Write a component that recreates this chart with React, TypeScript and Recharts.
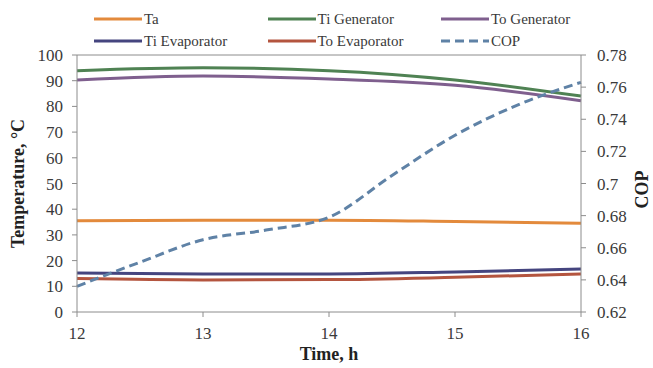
import { LineChart, Line, XAxis, YAxis, Legend, ReferenceLine, Label } from "recharts";

// hourly temperature readings, °C
const hours = [12, 13, 14, 15, 16];
const taValues = [35.5, 35.7, 35.7, 35.2, 34.5];
const tiGenValues = [93.9, 95.0, 93.9, 90.3, 84.0];
const toGenValues = [90.3, 91.8, 90.7, 88.2, 82.2];
const tiEvapValues = [15.2, 14.8, 14.8, 15.6, 16.7];
const toEvapValues = [13.0, 12.5, 12.6, 13.5, 14.8];

// COP, half-hourly
const copHours = [12, 12.5, 13, 13.5, 14, 14.5, 15, 15.5, 16];
const copValues = [0.636, 0.651, 0.665, 0.671, 0.679, 0.705, 0.73, 0.749, 0.763];

const timeTicks = [12, 13, 14, 15, 16];
const tempTicks = [0, 10, 20, 30, 40, 50, 60, 70, 80, 90, 100];
const copTicks = [0.62, 0.64, 0.66, 0.68, 0.7, 0.72, 0.74, 0.76, 0.78];

const series = [
  { key: "ta", name: "Ta", color: "#E38A3C", dashed: false },
  { key: "tiGen", name: "Ti Generator", color: "#4F8253", dashed: false },
  { key: "toGen", name: "To Generator", color: "#7F5F8E", dashed: false },
  { key: "tiEvap", name: "Ti Evaporator", color: "#45457F", dashed: false },
  { key: "toEvap", name: "To Evaporator", color: "#B4553F", dashed: false },
  { key: "cop", name: "COP", color: "#5F82A6", dashed: true },
];

const tempData = hours.map((t, i) => ({
  t,
  ta: taValues[i],
  tiGen: tiGenValues[i],
  toGen: toGenValues[i],
  tiEvap: tiEvapValues[i],
  toEvap: toEvapValues[i],
}));

const copData = copHours.map((t, i) => ({ t, cop: copValues[i] }));

const FONT = "'Liberation Serif', 'DejaVu Serif', serif";
const AXIS = "#8c8c8c";
const TEXT = "#3a3a3a";

function ChartLegend() {
  return (
    <div style={{ position: "relative", width: 653, height: 51, fontFamily: FONT }}>
      {series.map((s, i) => {
        const col = i % 3;
        const row = Math.floor(i / 3);
        return (
          <div
            key={s.key}
            style={{
              position: "absolute",
              left: 94 + col * 173.5,
              top: 19 + row * 22 - 9,
              height: 18,
              display: "flex",
              alignItems: "center",
              whiteSpace: "nowrap",
            }}
          >
            <svg width={50} height={6}>
              <line
                x1={0}
                y1={3}
                x2={48}
                y2={3}
                stroke={s.color}
                strokeWidth={3}
                strokeDasharray={s.dashed ? "9 5" : undefined}
              />
            </svg>
            <span style={{ fontSize: 15, color: TEXT, fontFamily: FONT }}>{s.name}</span>
          </div>
        );
      })}
    </div>
  );
}

export default function App() {
  const tick = { fontSize: 17, fill: TEXT, fontFamily: FONT };
  return (
    <div style={{ position: "absolute", left: 0, top: 0, width: 653, height: 368, background: "#fff", fontFamily: FONT }}>
      <LineChart
        width={653}
        height={368}
        data={tempData}
        margin={{ top: 4, right: 0, bottom: 0, left: 0 }}
        style={{ fontFamily: FONT }}
      >
        <Legend
          verticalAlign="top"
          content={() => <ChartLegend />}
          wrapperStyle={{ top: 0, left: 0, width: 653, height: 51 }}
        />
        <XAxis
          dataKey="t"
          type="number"
          domain={[12, 16]}
          ticks={timeTicks}
          height={56}
          stroke={AXIS}
          tickSize={5}
          tickMargin={10}
          tick={tick}
          allowDuplicatedCategory={false}
        >
          <Label
            content={(props: any) => {
              const vb = props.viewBox;
              return (
                <text
                  x={vb.x + vb.width / 2}
                  y={vb.y + 48}
                  textAnchor="middle"
                  fontFamily={FONT}
                  fontSize={18}
                  fontWeight="bold"
                  fill="#222"
                >
                  Time, h
                </text>
              );
            }}
          />
        </XAxis>
        <YAxis
          yAxisId="temp"
          domain={[0, 100]}
          ticks={tempTicks}
          width={77}
          stroke={AXIS}
          tickSize={5}
          tickMargin={9}
          tick={tick}
        >
          <Label
            content={(props: any) => {
              const vb = props.viewBox;
              const cx = vb.x + 18;
              const cy = vb.y + vb.height / 2;
              return (
                <text
                  x={cx}
                  y={cy}
                  transform={`rotate(-90, ${cx}, ${cy})`}
                  textAnchor="middle"
                  dominantBaseline="central"
                  fontFamily={FONT}
                  fontSize={18}
                  fontWeight="bold"
                  fill="#222"
                >
                  Temperature, °C
                </text>
              );
            }}
          />
        </YAxis>
        <YAxis
          yAxisId="cop"
          orientation="right"
          domain={[0.62, 0.78]}
          ticks={copTicks}
          width={72}
          stroke={AXIS}
          tickSize={5}
          tickMargin={11}
          tick={tick}
          tickFormatter={(v: number) => String(Number(v.toFixed(2)))}
        >
          <Label
            content={(props: any) => {
              const vb = props.viewBox;
              const cx = vb.x + 61;
              const cy = vb.y + vb.height / 2 + 6;
              return (
                <text
                  x={cx}
                  y={cy}
                  transform={`rotate(-90, ${cx}, ${cy})`}
                  textAnchor="middle"
                  dominantBaseline="central"
                  fontFamily={FONT}
                  fontSize={18}
                  fontWeight="bold"
                  fill="#222"
                >
                  COP
                </text>
              );
            }}
          />
        </YAxis>
        <ReferenceLine yAxisId="temp" y={100} stroke={AXIS} />
        {series
          .filter((s) => !s.dashed)
          .map((s) => (
            <Line
              key={s.key}
              yAxisId="temp"
              type="monotone"
              dataKey={s.key}
              name={s.name}
              stroke={s.color}
              strokeWidth={3}
              dot={false}
              activeDot={false}
              isAnimationActive={false}
            />
          ))}
        <Line
          yAxisId="cop"
          data={copData}
          type="monotone"
          dataKey="cop"
          name="COP"
          stroke="#5F82A6"
          strokeWidth={3}
          strokeDasharray="9 5"
          dot={false}
          activeDot={false}
          isAnimationActive={false}
        />
      </LineChart>
    </div>
  );
}
